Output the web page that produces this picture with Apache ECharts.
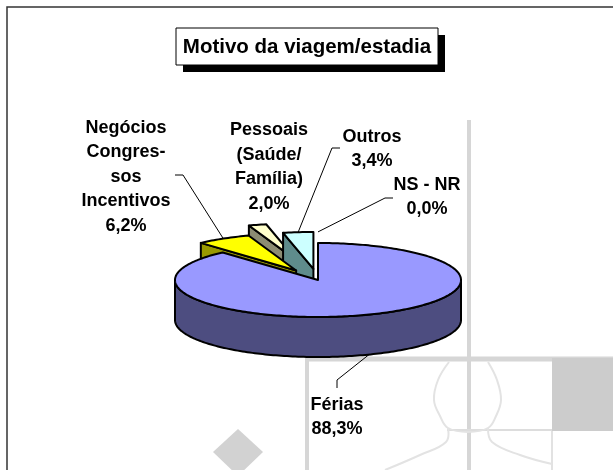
<!DOCTYPE html>
<html>
<head>
<meta charset="utf-8">
<script src="https://cdn.jsdelivr.net/npm/echarts@6/dist/echarts.min.js"></script>
<style>
html, body { margin: 0; padding: 0; background: #fff; }
#main { width: 613px; height: 470px; }
</style>
</head>
<body>
<div id="main"></div>
<script>
// dados
const categories = ['Férias', 'Negócios\nCongres-\nsos\nIncentivos', 'Pessoais\n(Saúde/\nFamília)', 'Outros', 'NS - NR'];
const percents = [88.3, 6.2, 2.0, 3.4, 0.0];

// aspecto
const topColors = ['#9999ff', '#ffff00', '#ffffcc', '#ccffff', '#660066'];
const sideColors = ['#4d4d80', '#999900', '#8c8c73', '#5f8c8c', '#330033'];
const explode = [0, 0.3, 0.55, 0.3, 0.3];
const depthOrder = [10, 6, 2, 4, 8];
const labelPos = [[337, 417], [126, 177], [269, 167], [372, 149], [427, 197]];
const leaderElbow = [[337, 380], [183, 175], null, [332, 148], [385, 198]];
const leaderEnd = [[337, 388], [175, 175], null, [340, 148], [393, 198]];

const CX = 318, CY = 280, RX = 143, RY = 37, H = 40;
const total = percents.reduce((s, v) => s + v, 0);
const LABEL_FONT = 'bold 18px "Liberation Sans", Arial, sans-serif';

function pt(t, dx, dy, down) {
  return [CX + RX * Math.sin(t) + dx, CY - RY * Math.cos(t) + dy + (down || 0)];
}

function renderSlice(params, api) {
  const i = params.dataIndex;
  const v = api.value(0);
  let before = 0;
  for (let j = 0; j < i; j++) before += percents[j];
  const a = before / total * Math.PI * 2;
  const b = (before + v) / total * Math.PI * 2;
  const m = (a + b) / 2;
  const dx = explode[i] * RX * Math.sin(m);
  const dy = -explode[i] * RY * Math.cos(m);
  const z = depthOrder[i];
  const children = [];
  const edge = { stroke: '#000', lineWidth: 2, lineJoin: 'round' };

  if (b - a > 1e-6) {
    const n = Math.max(2, Math.ceil((b - a) / 0.02));
    const c = [CX + dx, CY + dy];
    const top = [c];
    for (let k = 0; k <= n; k++) top.push(pt(a + (b - a) * k / n, dx, dy));

    // faces laterais (cortes)
    const face = (t) => {
      const p = pt(t, dx, dy);
      return {
        type: 'polygon', z2: z,
        shape: { points: [c, p, [p[0], p[1] + H], [c[0], c[1] + H]] },
        style: Object.assign({ fill: sideColors[i] }, edge)
      };
    };
    if (Math.sin(a) < -1e-3) children.push(face(a));
    if (Math.sin(b) > 1e-3) children.push(face(b));

    // parede exterior visivel
    const w0 = Math.max(a, Math.PI / 2), w1 = Math.min(b, Math.PI * 1.5);
    if (w1 > w0) {
      const wn = Math.max(2, Math.ceil((w1 - w0) / 0.02));
      const upper = [], lower = [];
      for (let k = 0; k <= wn; k++) {
        const t = w0 + (w1 - w0) * k / wn;
        upper.push(pt(t, dx, dy));
        lower.push(pt(t, dx, dy, H));
      }
      children.push({
        type: 'polygon', z2: z,
        shape: { points: upper.concat(lower.reverse()) },
        style: Object.assign({ fill: sideColors[i] }, edge)
      });
    }

    children.push({
      type: 'polygon', z2: z + 1,
      shape: { points: top },
      style: Object.assign({ fill: topColors[i] }, edge)
    });
  }

  // linha de chamada
  if (leaderElbow[i]) {
    const anchor = Math.cos(m) < 0 ? pt(m, dx, dy, H) : pt(m, dx, dy);
    children.push({
      type: 'polyline', z2: 30,
      shape: { points: [anchor, leaderElbow[i], leaderEnd[i]] },
      style: { stroke: '#000', lineWidth: 1, fill: null }
    });
  }

  children.push({
    type: 'text', z2: 31,
    style: {
      text: categories[i] + '\n' + v.toFixed(1).replace('.', ',') + '%',
      x: labelPos[i][0], y: labelPos[i][1],
      align: 'center', verticalAlign: 'middle',
      font: LABEL_FONT, lineHeight: 24.5, fill: '#000'
    }
  });

  return { type: 'group', children };
}

const chart = echarts.init(document.getElementById('main'), null, { renderer: 'canvas' });

const wm = '#d6d6d6';
const headStyle = { stroke: '#e3e3e3', lineWidth: 2, fill: null };
const option = {
  backgroundColor: '#fff',
  animation: false,
  graphic: [
    // marca de agua ao fundo
    { type: 'line', z: 0, shape: { x1: 469, y1: 120, x2: 469, y2: 470 }, style: { stroke: wm, lineWidth: 4 } },
    { type: 'line', z: 0, shape: { x1: 307, y1: 357, x2: 307, y2: 470 }, style: { stroke: wm, lineWidth: 4 } },
    { type: 'line', z: 0, shape: { x1: 305, y1: 359, x2: 613, y2: 359 }, style: { stroke: wm, lineWidth: 5 } },
    { type: 'rect', z: 0, shape: { x: 552, y: 358, width: 61, height: 73 }, style: { fill: '#cccccc' } },
    { type: 'line', z: 0, shape: { x1: 447, y1: 430, x2: 552, y2: 430 }, style: { stroke: '#dddddd', lineWidth: 2 } },
    { type: 'line', z: 0, shape: { x1: 552, y1: 431, x2: 552, y2: 470 }, style: { stroke: '#e2e2e2', lineWidth: 2 } },
    {
      type: 'polyline', z: 0,
      shape: { points: [[449, 362], [438, 380], [434, 400], [440, 416], [448, 428], [468, 432], [488, 428], [496, 416], [501, 400], [497, 380], [488, 362]], smooth: 0.4 },
      style: headStyle
    },
    { type: 'polyline', z: 0, shape: { points: [[448, 428], [446, 442], [420, 455], [385, 470]], smooth: 0.4 }, style: headStyle },
    { type: 'polyline', z: 0, shape: { points: [[488, 428], [492, 442], [520, 455], [552, 464]], smooth: 0.4 }, style: headStyle },
    { type: 'polygon', z: 0, shape: { points: [[238, 429], [263, 452], [238, 476], [213, 452]] }, style: { fill: '#d2d2d2' } },
    // moldura
    { type: 'rect', z: 1, shape: { x: 7, y: 7, width: 640, height: 500 }, style: { fill: null, stroke: '#333', lineWidth: 1.5 } },
    // titulo
    { type: 'rect', z: 40, shape: { x: 183, y: 35, width: 262, height: 37 }, style: { fill: '#000' } },
    { type: 'rect', z: 41, shape: { x: 176, y: 28, width: 262, height: 37 }, style: { fill: '#fff', stroke: '#000', lineWidth: 1 } },
    {
      type: 'text', z: 42,
      style: {
        text: 'Motivo da viagem/estadia', x: 307, y: 47,
        align: 'center', verticalAlign: 'middle',
        font: 'bold 20.5px "Liberation Sans", Arial, sans-serif', fill: '#000'
      }
    }
  ],
  series: [{
    type: 'custom',
    coordinateSystem: 'none',
    renderItem: renderSlice,
    z: 5,
    data: percents.map((v, i) => ({ name: categories[i], value: v }))
  }]
};

chart.setOption(option);
</script>
</body>
</html>
